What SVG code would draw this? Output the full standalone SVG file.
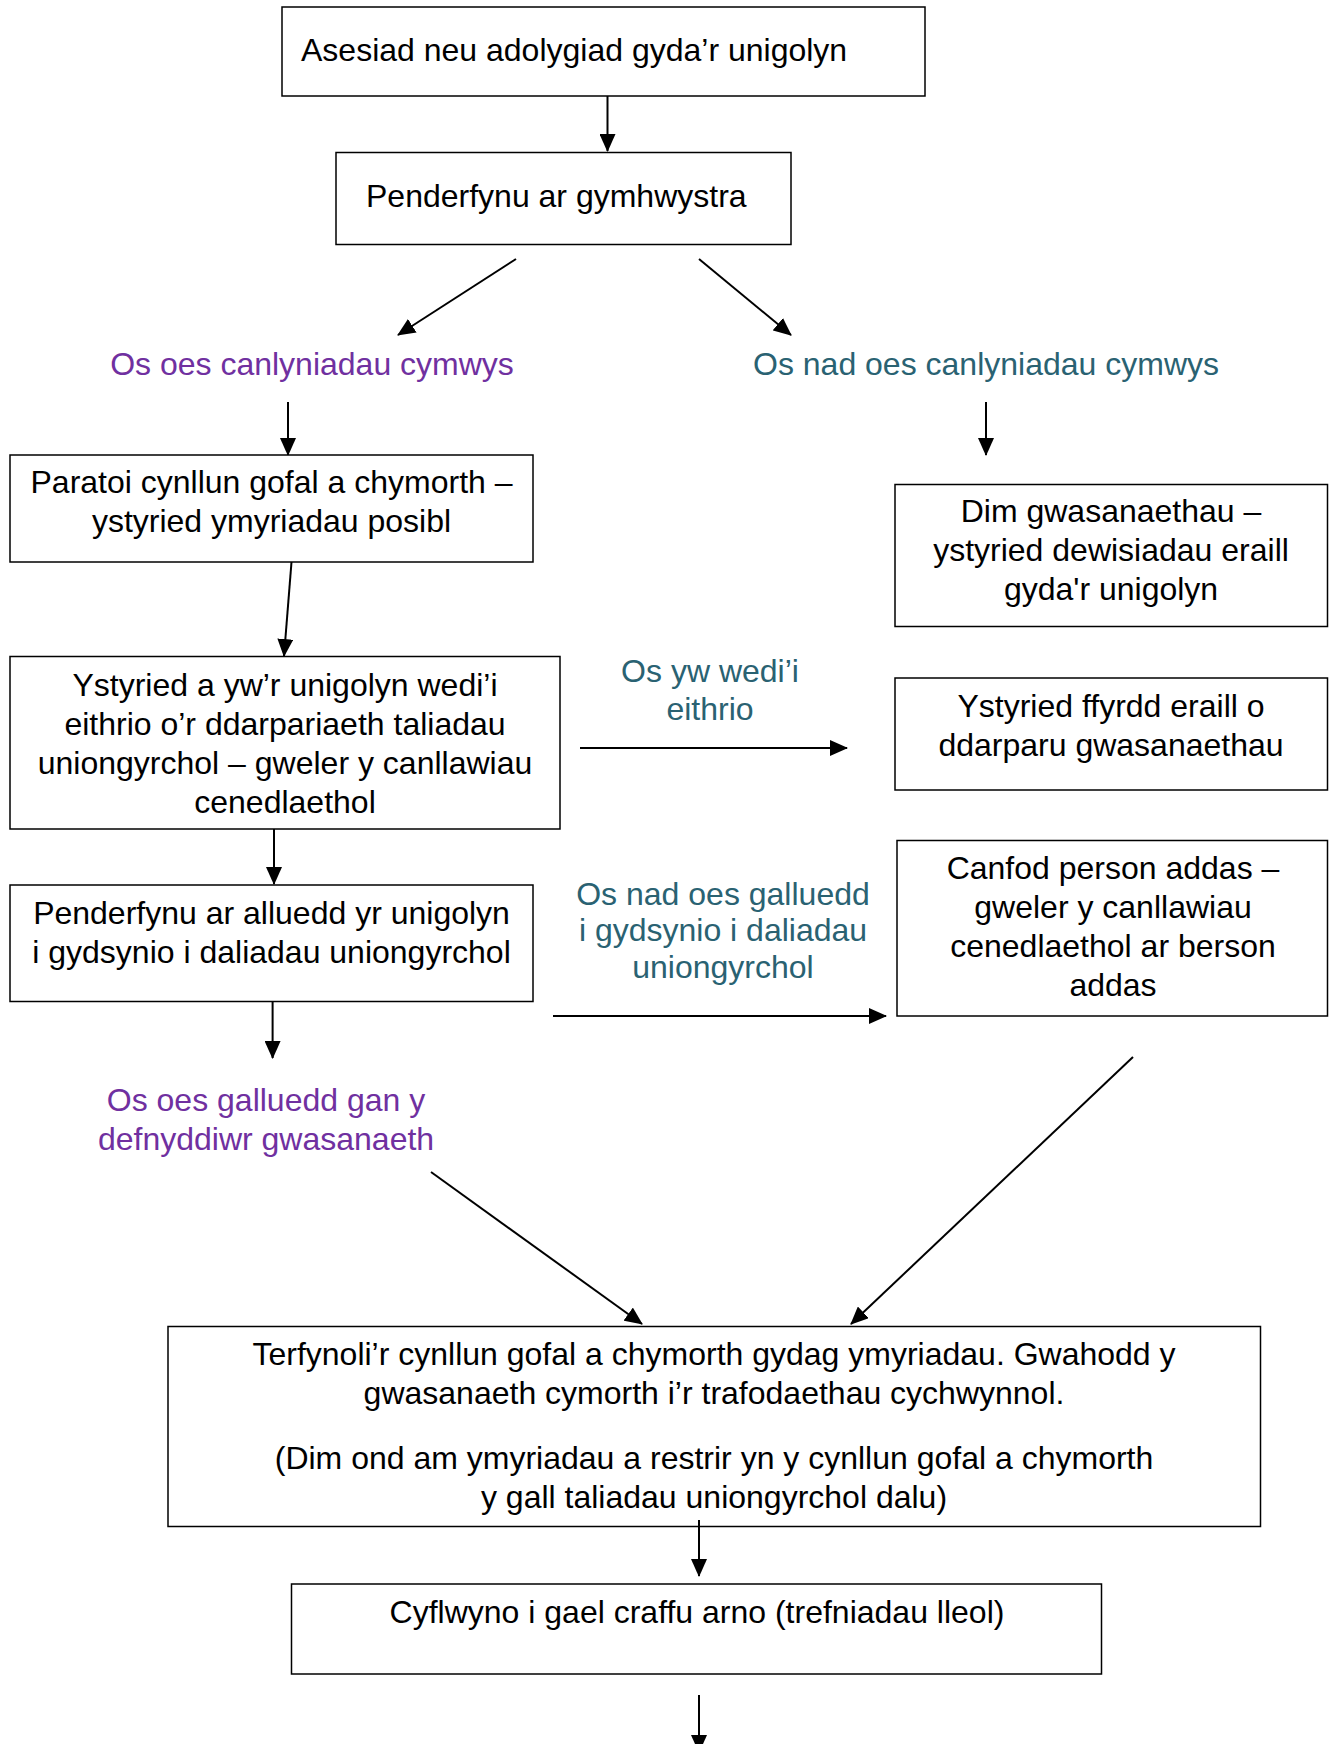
<svg xmlns="http://www.w3.org/2000/svg" width="1333" height="1744" viewBox="0 0 1333 1744">
<style>
.box{fill:#fff;stroke:#000;stroke-width:1.5}
text{font-family:"Liberation Sans",Arial,sans-serif;font-size:32px;fill:#000}
.c{text-anchor:middle}
.p{fill:#7030A0}
.t{fill:#2A6272}
.ln{stroke:#000;stroke-width:2;fill:none;marker-end:url(#ah)}
</style>
<defs>
<marker id="ah" markerUnits="userSpaceOnUse" markerWidth="18" markerHeight="16" refX="17" refY="8" orient="auto">
<path d="M0,0 L18,8 L0,16 Z" fill="#000"/>
</marker>
</defs>
<rect width="1333" height="1744" fill="#fff"/>
<g id="connectors">
<line class="ln" x1="607.5" y1="96" x2="607.5" y2="151"/>
<line class="ln" x1="516" y1="259" x2="398" y2="335"/>
<line class="ln" x1="699" y1="259" x2="791" y2="335"/>
<line class="ln" x1="288" y1="402" x2="288" y2="455"/>
<line class="ln" x1="986" y1="402" x2="986" y2="455"/>
<line class="ln" x1="291.5" y1="562" x2="284" y2="656"/>
<line class="ln" x1="580" y1="748" x2="847" y2="748"/>
<line class="ln" x1="274" y1="829" x2="274" y2="884"/>
<line class="ln" x1="553" y1="1016" x2="886" y2="1016"/>
<line class="ln" x1="272.6" y1="1002" x2="272.6" y2="1058"/>
<line class="ln" x1="431" y1="1172" x2="642" y2="1324"/>
<line class="ln" x1="1133" y1="1057" x2="851" y2="1324"/>
<line class="ln" x1="699" y1="1695" x2="699" y2="1752"/>
</g>
<g id="n1"><rect class="box" x="282" y="7" width="643" height="89"/><text x="301" y="61">Asesiad neu adolygiad gyda’r unigolyn</text></g>
<g id="n2"><rect class="box" x="336" y="152.5" width="455" height="92"/><text x="366" y="207">Penderfynu ar gymhwystra</text></g>
<g id="l1"><text class="c p" x="312" y="375">Os oes canlyniadau cymwys</text></g>
<g id="l2"><text class="c t" x="986" y="375">Os nad oes canlyniadau cymwys</text></g>
<g id="n3"><rect class="box" x="10" y="455" width="523" height="107"/><text class="c" x="271.5" y="493">Paratoi cynllun gofal a chymorth –</text><text class="c" x="271.5" y="532">ystyried ymyriadau posibl</text></g>
<g id="n4"><rect class="box" x="895" y="484.5" width="432.5" height="142"/><text class="c" x="1111" y="522">Dim gwasanaethau –</text><text class="c" x="1111" y="561">ystyried dewisiadau eraill</text><text class="c" x="1111" y="600">gyda'r unigolyn</text></g>
<g id="n5"><rect class="box" x="10" y="656.5" width="550" height="172.5"/><text class="c" x="285" y="695.5">Ystyried a yw’r unigolyn wedi’i</text><text class="c" x="285" y="734.5">eithrio o’r ddarpariaeth taliadau</text><text class="c" x="285" y="773.5">uniongyrchol – gweler y canllawiau</text><text class="c" x="285" y="812.5">cenedlaethol</text></g>
<g id="l3"><text class="c t" x="710" y="682">Os yw wedi’i</text><text class="c t" x="710" y="720">eithrio</text></g>
<g id="n6"><rect class="box" x="895" y="678" width="432.5" height="112"/><text class="c" x="1111" y="716.5">Ystyried ffyrdd eraill o</text><text class="c" x="1111" y="755.5">ddarparu gwasanaethau</text></g>
<g id="n7"><rect class="box" x="10" y="885" width="523" height="116.5"/><text class="c" x="271.5" y="923.5">Penderfynu ar alluedd yr unigolyn</text><text class="c" x="271.5" y="962.5">i gydsynio i daliadau uniongyrchol</text></g>
<g id="l4"><text class="c t" x="723" y="904.5">Os nad oes galluedd</text><text class="c t" x="723" y="941">i gydsynio i daliadau</text><text class="c t" x="723" y="978">uniongyrchol</text></g>
<g id="n8"><rect class="box" x="897" y="840.5" width="430.5" height="175.5"/><text class="c" x="1113" y="879">Canfod person addas –</text><text class="c" x="1113" y="918">gweler y canllawiau</text><text class="c" x="1113" y="957">cenedlaethol ar berson</text><text class="c" x="1113" y="996">addas</text></g>
<g id="l5"><text class="c p" x="266" y="1110.5">Os oes galluedd gan y</text><text class="c p" x="266" y="1149.5">defnyddiwr gwasanaeth</text></g>
<g id="n9"><rect class="box" x="168" y="1326.5" width="1092.5" height="200"/><text class="c" x="714" y="1365">Terfynoli’r cynllun gofal a chymorth gydag ymyriadau. Gwahodd y</text><text class="c" x="714" y="1404">gwasanaeth cymorth i’r trafodaethau cychwynnol.</text><text class="c" x="714" y="1469">(Dim ond am ymyriadau a restrir yn y cynllun gofal a chymorth</text><text class="c" x="714" y="1508">y gall taliadau uniongyrchol dalu)</text></g>
<g id="connectors-2"><line class="ln" x1="699" y1="1520" x2="699" y2="1576"/></g>
<g id="n10"><rect class="box" x="291.5" y="1584" width="810" height="90"/><text class="c" x="697" y="1622.5">Cyflwyno i gael craffu arno (trefniadau lleol)</text></g>
</svg>
